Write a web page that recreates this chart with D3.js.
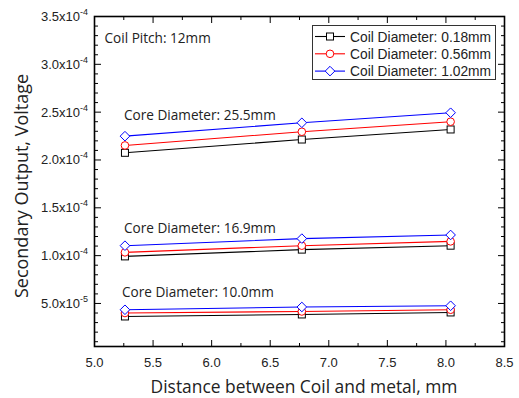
<!DOCTYPE html>
<html><head><meta charset="utf-8">
<script src="https://cdn.jsdelivr.net/npm/d3@7"></script>
<style>body{margin:0;background:#fff}svg{display:block}</style>
</head><body><svg id="c" width="519" height="398"></svg>
<script>
const distances = [5.26, 6.77, 8.04];
const seriesNames = ["Coil Diameter: 0.18mm", "Coil Diameter: 0.56mm", "Coil Diameter: 1.02mm"];
const seriesColors = ["#000000", "#ff0000", "#0000ff"];
const seriesShapes = ["square", "circle", "diamond"];
const coreLabels = ["Core Diameter: 25.5mm", "Core Diameter: 16.9mm", "Core Diameter: 10.0mm"];
// values [core][series][point]
const core255 = [[2.075e-4, 2.214e-4, 2.319e-4], [2.152e-4, 2.295e-4, 2.40e-4], [2.249e-4, 2.389e-4, 2.494e-4]];
const core169 = [[0.992e-4, 1.063e-4, 1.104e-4], [1.034e-4, 1.104e-4, 1.149e-4], [1.104e-4, 1.178e-4, 1.216e-4]];
const core100 = [[0.364e-4, 0.385e-4, 0.406e-4], [0.40e-4, 0.416e-4, 0.434e-4], [0.434e-4, 0.463e-4, 0.476e-4]];
const xTicks = [5.0, 5.5, 6.0, 6.5, 7.0, 7.5, 8.0, 8.5];
const yTicks = [0.5e-4, 1.0e-4, 1.5e-4, 2.0e-4, 2.5e-4, 3.0e-4, 3.5e-4];
const yTickLabels = ["5.0x10|-5", "1.0x10|-4", "1.5x10|-4", "2.0x10|-4", "2.5x10|-4", "3.0x10|-4", "3.5x10|-4"];
const annotation = "Coil Pitch: 12mm";

const svg = d3.select("#c");
const L = 94.5, R = 504.5, T = 16.5, B = 346.5;
const x = d3.scaleLinear().domain([5.0, 8.5]).range([L, R]);
const y = d3.scaleLinear().domain([0.05e-4, 3.5e-4]).range([B, T]);
const tickFont = "'Liberation Sans', Arial, sans-serif";
const labFont = "'Open Sans', 'Noto Sans', sans-serif";

// axes (ticks inward) on all four sides
const xMinor = d3.range(0, 15).map(i => 5.0 + i * 0.25);
const yMinor = d3.range(1, 35).map(i => i * 1e-5);
const g = svg.append("g");
function drawTicks(vals, len) {
  vals.forEach(v => {
    const px = x(v);
    g.append("line").attr("x1", px).attr("x2", px).attr("y1", B).attr("y2", B - len).attr("stroke", "#000").attr("stroke-width", 1);
    g.append("line").attr("x1", px).attr("x2", px).attr("y1", T).attr("y2", T + len).attr("stroke", "#000").attr("stroke-width", 1);
  });
}
function drawYTicks(vals, len) {
  vals.forEach(v => {
    const py = y(v);
    g.append("line").attr("x1", L).attr("x2", L + len).attr("y1", py).attr("y2", py).attr("stroke", "#000").attr("stroke-width", 1);
    g.append("line").attr("x1", R).attr("x2", R - len).attr("y1", py).attr("y2", py).attr("stroke", "#000").attr("stroke-width", 1);
  });
}
drawTicks(xMinor.filter(v => !xTicks.some(t => Math.abs(t - v) < 1e-9)), 3.5);
drawTicks(xTicks, 6.5);
drawYTicks(yMinor.filter(v => !yTicks.some(t => Math.abs(t - v) < 1e-12)), 3.5);
drawYTicks(yTicks, 6.5);
g.append("rect").attr("x", L).attr("y", T).attr("width", R - L).attr("height", B - T)
  .attr("fill", "none").attr("stroke", "#000").attr("stroke-width", 1.6);

// tick labels
xTicks.forEach(v => {
  g.append("text").attr("x", x(v)).attr("y", 367).attr("text-anchor", "middle")
    .attr("font-family", tickFont).attr("font-size", 13).attr("fill", "#222").text(d3.format(".1f")(v));
});
yTicks.forEach((v, i) => {
  const [base, sup] = yTickLabels[i].split("|");
  const t = g.append("text").attr("x", 88).attr("y", y(v) + 4.5).attr("text-anchor", "end")
    .attr("font-family", tickFont).attr("font-size", 13).attr("fill", "#222");
  t.append("tspan").text(base);
  t.append("tspan").attr("font-size", 9).attr("dy", -6).text(sup);
});

// axis titles
svg.append("text").attr("x", 304).attr("y", 393).attr("text-anchor", "middle")
  .attr("font-family", labFont).attr("font-size", 17.4).attr("fill", "#222").text("Distance between Coil and metal, mm");
svg.append("text").attr("transform", "translate(28,186) rotate(-90)").attr("text-anchor", "middle")
  .attr("font-family", labFont).attr("font-size", 18).attr("fill", "#222").text("Secondary Output, Voltage");

// markers
function marker(sel, shape, color, cx, cy) {
  if (shape === "square") {
    sel.append("rect").attr("x", cx - 3.5).attr("y", cy - 3.5).attr("width", 7).attr("height", 7)
      .attr("fill", "#fff").attr("stroke", color).attr("stroke-width", 1);
  } else if (shape === "circle") {
    sel.append("circle").attr("cx", cx).attr("cy", cy).attr("r", 3.8)
      .attr("fill", "#fff").attr("stroke", color).attr("stroke-width", 1);
  } else {
    sel.append("path").attr("d", `M${cx},${cy - 4.8}L${cx + 4.8},${cy}L${cx},${cy + 4.8}L${cx - 4.8},${cy}Z`)
      .attr("fill", "#fff").attr("stroke", color).attr("stroke-width", 1);
  }
}

const cores = [core255, core169, core100];
const line = d3.line().x((d, i) => x(distances[i])).y(d => y(d));
const dataG = svg.append("g");
cores.forEach(core => {
  core.forEach((vals, s) => {
    dataG.append("path").attr("d", line(vals)).attr("fill", "none").attr("stroke", seriesColors[s]).attr("stroke-width", 1.1);
  });
  core.forEach((vals, s) => {
    vals.forEach((v, i) => marker(dataG, seriesShapes[s], seriesColors[s], x(distances[i]), y(v)));
  });
});

// core labels
const coreLabelPos = [[124, 2.413e-4], [124, 1.233e-4], [122, 0.564e-4]];
coreLabels.forEach((lab, i) => {
  svg.append("text").attr("x", coreLabelPos[i][0]).attr("y", y(coreLabelPos[i][1]))
    .attr("font-family", labFont).attr("font-size", 13.6).attr("fill", "#222").text(lab);
});
svg.append("text").attr("x", 104.5).attr("y", 42.7).attr("font-family", labFont).attr("font-size", 13.6).attr("fill", "#222").text(annotation);

// legend
const lg = svg.append("g");
lg.append("rect").attr("x", 312.5).attr("y", 25.5).attr("width", 183).attr("height", 54)
  .attr("fill", "#fff").attr("stroke", "#333").attr("stroke-width", 1);
seriesNames.forEach((n, i) => {
  const cy = 36.5 + i * 17.3;
  lg.append("line").attr("x1", 315).attr("x2", 345).attr("y1", cy).attr("y2", cy).attr("stroke", seriesColors[i]).attr("stroke-width", 1.1);
  marker(lg, seriesShapes[i], seriesColors[i], 330, cy);
  lg.append("text").attr("x", 350).attr("y", cy + 5).attr("font-family", tickFont).attr("font-size", 13.8).attr("fill", "#222").text(n);
});
</script></body></html>
